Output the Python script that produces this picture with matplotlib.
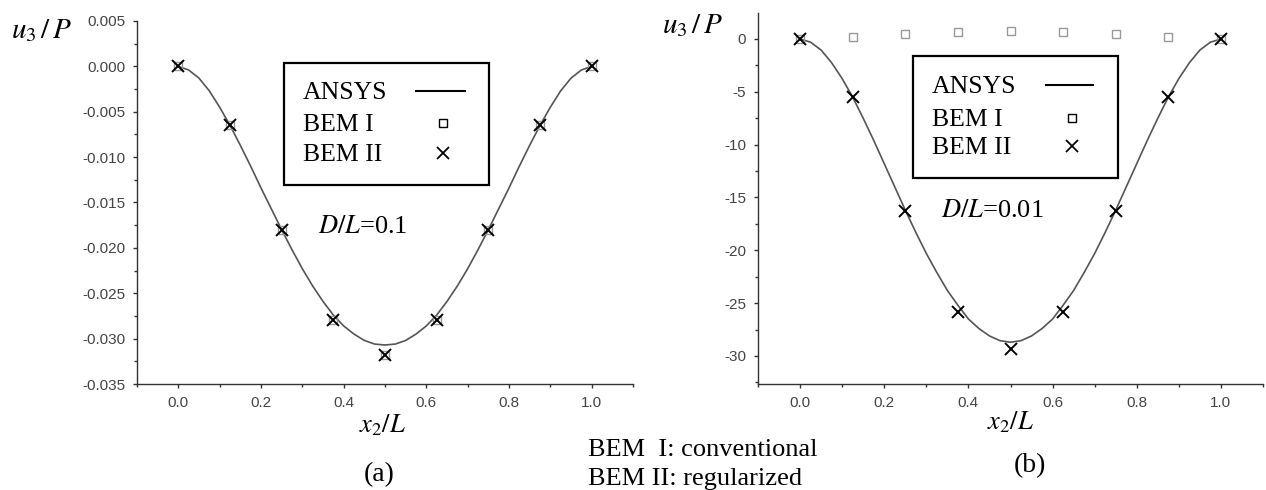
import matplotlib
matplotlib.use('Agg')
import matplotlib.pyplot as plt
from matplotlib.lines import Line2D
from matplotlib.patches import Rectangle
from matplotlib.ticker import MultipleLocator, FormatStrFormatter

plt.rcParams['mathtext.fontset'] = 'stix'

# ---- data ----
x_ansys = [0.0, 0.025, 0.05, 0.075, 0.1, 0.125, 0.15, 0.175, 0.2, 0.225, 0.25,
           0.275, 0.3, 0.325, 0.35, 0.375, 0.4, 0.425, 0.45, 0.475, 0.5,
           0.525, 0.55, 0.575, 0.6, 0.625, 0.65, 0.675, 0.7, 0.725, 0.75,
           0.775, 0.8, 0.825, 0.85, 0.875, 0.9, 0.925, 0.95, 0.975, 1.0]
ansys_a = [0.0, -0.0004, -0.0013, -0.0027, -0.0045, -0.0065, -0.0087, -0.0110, -0.0134, -0.0157, -0.0180,
           -0.0202, -0.0223, -0.0242, -0.0259, -0.0274, -0.0286, -0.0295, -0.0302, -0.0306, -0.0307,
           -0.0306, -0.0302, -0.0295, -0.0286, -0.0274, -0.0259, -0.0242, -0.0223, -0.0202, -0.0180,
           -0.0157, -0.0134, -0.0110, -0.0087, -0.0065, -0.0045, -0.0027, -0.0013, -0.0004, 0.0]
ansys_b = [0.0, -0.3, -1.05, -2.25, -3.75, -5.5, -7.5, -9.6, -11.8, -14.0, -16.2,
           -18.3, -20.3, -22.1, -23.8, -25.2, -26.5, -27.4, -28.1, -28.55, -28.7,
           -28.55, -28.1, -27.4, -26.5, -25.2, -23.8, -22.1, -20.3, -18.3, -16.2,
           -14.0, -11.8, -9.6, -7.5, -5.5, -3.75, -2.25, -1.05, -0.3, 0.0]

x_bem = [0.0, 0.125, 0.25, 0.375, 0.5, 0.625, 0.75, 0.875, 1.0]
bem1_a = [0.0, -0.0065, -0.0180, -0.0280, -0.0318, -0.0280, -0.0180, -0.0065, 0.0]
bem2_a = [0.0, -0.0065, -0.0180, -0.0280, -0.0318, -0.0280, -0.0180, -0.0065, 0.0]
bem1_b = [0.0, 0.2, 0.45, 0.7, 0.75, 0.7, 0.45, 0.2, 0.0]
bem2_b = [0.0, -5.5, -16.3, -25.8, -29.3, -25.8, -16.3, -5.5, 0.0]

legend_labels = ['ANSYS', 'BEM I', 'BEM II']

serif = 'Liberation Serif'
sans = 'Liberation Sans'
W, H = 1266, 490


def P(x, y):
    # figure pixel -> figure fraction
    return x / W, 1 - y / H


fig = plt.figure(figsize=(12.66, 4.9), dpi=100)
ax1 = fig.add_axes([137 / W, 106 / H, 496 / W, 363 / H])
ax2 = fig.add_axes([758 / W, 106 / H, 505 / W, 371 / H])


def style(ax, ylim, ymaj, ymin, fmt):
    ax.set_xlim(-0.1, 1.1)
    ax.set_ylim(*ylim)
    ax.spines['top'].set_visible(False)
    ax.spines['right'].set_visible(False)
    for s in ['left', 'bottom']:
        ax.spines[s].set_color('#333333')
        ax.spines[s].set_linewidth(1.0)
    ax.xaxis.set_major_locator(MultipleLocator(0.2))
    ax.xaxis.set_minor_locator(MultipleLocator(0.1))
    ax.xaxis.set_major_formatter(FormatStrFormatter('%.1f'))
    ax.yaxis.set_major_locator(MultipleLocator(ymaj))
    ax.yaxis.set_minor_locator(MultipleLocator(ymin))
    ax.yaxis.set_major_formatter(FormatStrFormatter(fmt))
    ax.tick_params(which='major', direction='out', length=3, width=1, color='#333333',
                   labelsize=11, labelcolor='#444444', pad=5.5)
    ax.tick_params(which='minor', direction='out', length=2, width=1, color='#333333')
    for lab in ax.get_xticklabels() + ax.get_yticklabels():
        lab.set_family(sans)


def draw(ax, ya, y1, y2):
    ax.plot(x_ansys, ya, '-', color='#555555', lw=1.2, zorder=2)
    ax.plot(x_bem, y1, 's', mfc='none', mec='#999999', ms=6, mew=1, zorder=3)
    ax.plot(x_bem, y2, 'x', color='black', ms=9, mew=1.4, zorder=4)


def legend_box(box, text_x, rows, line_x, mark_x):
    # box = (left, top, right, bottom) in figure pixels
    l, t, r, b = box
    x0, y0 = P(l, b)
    x1, y1 = P(r, t)
    fig.add_artist(Rectangle((x0, y0), x1 - x0, y1 - y0, transform=fig.transFigure,
                             fill=False, edgecolor='black', lw=1.6))
    for lab, y in zip(legend_labels, rows):
        fig.text(*P(text_x, y), lab, family=serif, fontsize=18.5, ha='left', va='center')
    xa, ya = P(line_x[0], rows[0] - 2)
    xb, _ = P(line_x[1], rows[0] - 2)
    fig.add_artist(Line2D([xa, xb], [ya, ya], transform=fig.transFigure, color='black', lw=1.5))
    fig.add_artist(Line2D([P(mark_x, 0)[0]], [P(0, rows[1] - 2)[1]], transform=fig.transFigure,
                          ls='none', marker='s', mfc='none', mec='black', ms=6, mew=1))
    fig.add_artist(Line2D([P(mark_x, 0)[0]], [P(0, rows[2] - 2)[1]], transform=fig.transFigure,
                          ls='none', marker='x', color='black', ms=8, mew=1.3))


draw(ax1, ansys_a, bem1_a, bem2_a)
draw(ax2, ansys_b, bem1_b, bem2_b)
style(ax1, (-0.035, 0.005), 0.005, 0.0025, '%.3f')
style(ax2, (-32.65, 2.46), 5, 2.5, '%d')

legend_box((284, 63, 489, 185), 303, (93, 125, 155), (416, 465), 443)
legend_box((913, 56, 1118, 178), 932, (87, 120, 148), (1046, 1093), 1072)

ax1.text(0.338, -0.0177, r'$D/L$=0.1', fontsize=19, family=serif, ha='left', va='center')
ax2.text(0.334, -16.3, r'$D/L$=0.01', fontsize=19, family=serif, ha='left', va='center')

fig.text(*P(41, 30), r'$u_3\,/\,P$', fontsize=21, ha='center', va='center')
fig.text(*P(692, 25), r'$u_3\,/\,P$', fontsize=21, ha='center', va='center')
fig.text(*P(382, 425), r'$x_2/L$', fontsize=19, ha='center', va='center')
fig.text(*P(1010, 422), r'$x_2/L$', fontsize=19, ha='center', va='center')
fig.text(*P(379, 475), '(a)', fontsize=20, family=serif, ha='center', va='center')
fig.text(*P(1030, 466), '(b)', fontsize=20, family=serif, ha='center', va='center')
fig.text(*P(588, 450), 'BEM  I: conventional', fontsize=19, family=serif, ha='left', va='center')
fig.text(*P(588, 479), 'BEM II: regularized', fontsize=19, family=serif, ha='left', va='center')

fig.savefig('out.png', dpi=100)
